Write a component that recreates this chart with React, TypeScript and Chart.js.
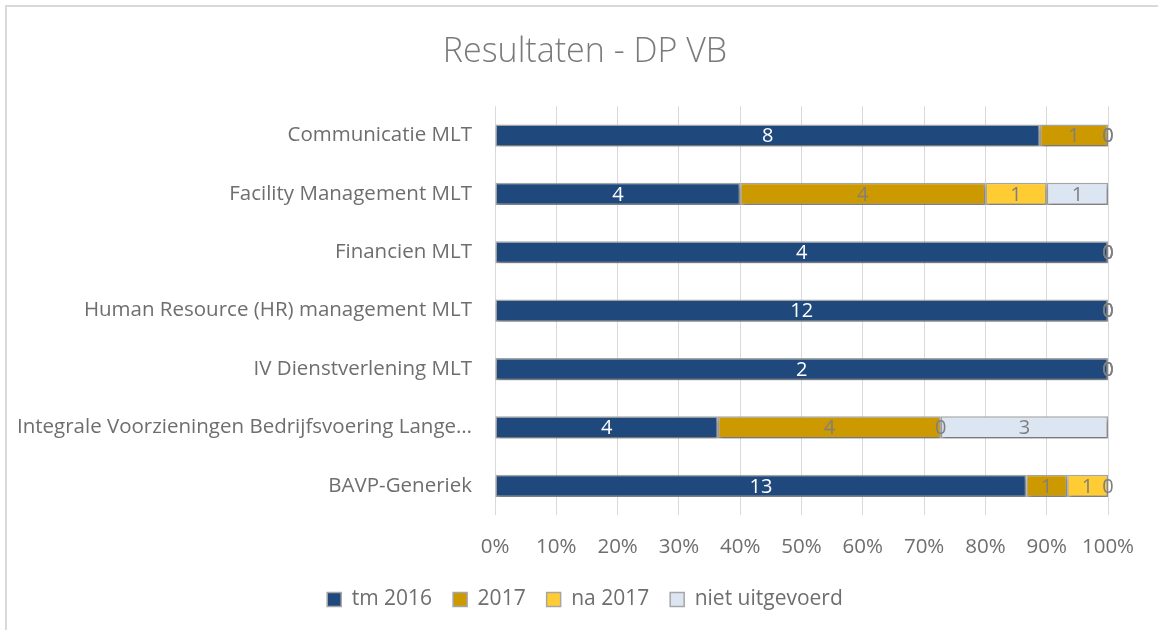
import React, { useEffect, useRef } from "react";
import { Chart, registerables } from "chart.js";

Chart.register(...registerables);

const categories = [
  "Communicatie MLT",
  "Facility Management MLT",
  "Financien MLT",
  "Human Resource (HR) management MLT",
  "IV Dienstverlening MLT",
  "Integrale Voorzieningen Bedrijfsvoering Lange…",
  "BAVP-Generiek",
];
const tm2016 = [8, 4, 4, 12, 2, 4, 13];
const y2017 = [1, 4, 0, 0, 0, 4, 1];
const na2017 = [0, 1, 0, 0, 0, 0, 1];
const nietUitgevoerd = [0, 1, 0, 0, 0, 3, 0];
const xTicks = ["0%", "10%", "20%", "30%", "40%", "50%", "60%", "70%", "80%", "90%", "100%"];

const FONT = "'Open Sans', 'DejaVu Sans', sans-serif";
const TEXT = "#6e6e6e";

const rowTotals = categories.map((_, i) => tm2016[i] + y2017[i] + na2017[i] + nietUitgevoerd[i]);
const pct = (arr: number[]) => arr.map((v, i) => (v / rowTotals[i]) * 100);

const shadowPlugin = {
  id: "barShadow",
  beforeDatasetsDraw(chart: any) {
    const ctx = chart.ctx;
    ctx.save();
    ctx.shadowColor = "rgba(0,0,0,0.3)";
    ctx.shadowBlur = 4;
    ctx.shadowOffsetX = 1;
    ctx.shadowOffsetY = 3;
  },
  afterDatasetsDraw(chart: any) {
    chart.ctx.restore();
  },
};

const labelsPlugin = {
  id: "segLabels",
  afterDatasetsDraw(chart: any) {
    const ctx = chart.ctx;
    ctx.save();
    ctx.font = `20px ${FONT}`;
    ctx.textAlign = "center";
    ctx.textBaseline = "middle";
    chart.data.datasets.forEach((ds: any, di: number) => {
      const meta = chart.getDatasetMeta(di);
      meta.data.forEach((el: any, i: number) => {
        const p = el.getProps(["x", "y", "base"], true);
        const cx = (p.x + p.base) / 2;
        ctx.fillStyle = di === 0 ? "#ffffff" : "#7f7f7f";
        ctx.fillText(String(ds.raw[i]), cx, p.y + 1);
      });
    });
    ctx.restore();
  },
};

export default function App() {
  const ref = useRef<HTMLCanvasElement | null>(null);
  useEffect(() => {
    if (!ref.current) return;
    const mk = (label: string, raw: number[], color: string) => ({
      label,
      raw,
      data: pct(raw),
      backgroundColor: color,
      borderColor: "#a6a6a6",
      borderWidth: 1.5,
      borderSkipped: false,
      categoryPercentage: 1,
      barPercentage: 0.38,
    });
    const chart = new Chart(ref.current, {
      type: "bar",
      data: {
        labels: categories,
        datasets: [
          mk("tm 2016", tm2016, "#1f497d"),
          mk("2017", y2017, "#cc9900"),
          mk("na 2017", na2017, "#ffcc33"),
          mk("niet uitgevoerd", nietUitgevoerd, "#dce6f2"),
        ] as any,
      },
      options: {
        indexAxis: "y",
        animation: false,
        responsive: true,
        maintainAspectRatio: false,
        layout: { padding: { top: 6, left: 12, right: 0, bottom: 10 } },
        scales: {
          x: {
            stacked: true,
            min: 0,
            max: 100,
            ticks: {
              stepSize: 10,
              padding: 20,
              color: TEXT,
              font: { size: 20.5, family: FONT },
              callback: (_v: any, idx: number) => xTicks[idx],
            },
            grid: { color: "#d9d9d9", lineWidth: 1, drawTicks: false },
            border: { display: false },
            afterFit: (s: any) => {
              s.height = 53;
            },
          },
          y: {
            stacked: true,
            ticks: {
              padding: 15,
              color: TEXT,
              font: { size: 20.5, family: FONT },
            },
            grid: { display: false },
            border: { display: false },
            afterFit: (s: any) => {
              s.width = 483;
            },
          },
          spacer: {
            type: "linear",
            position: "right",
            display: true,
            ticks: { display: false },
            grid: { display: false, drawTicks: false },
            border: { display: false },
            afterFit: (s: any) => {
              s.width = 50;
            },
          },
        },
        plugins: {
          title: {
            display: true,
            text: "Resultaten - DP VB",
            color: "#7a7a7a",
            font: { size: 34, family: FONT, weight: 300 },
            padding: { top: 26, bottom: 33.5 },
          },
          legend: {
            position: "bottom",
            labels: {
              boxWidth: 14,
              boxHeight: 14,
              padding: 21,
              color: TEXT,
              font: { size: 21, family: FONT },
            },
          },
          tooltip: { enabled: false },
        },
      },
      plugins: [shadowPlugin, labelsPlugin],
    } as any);
    return () => chart.destroy();
  }, []);
  return (
    <div style={{ position: "absolute", left: 0, top: 0, width: 1158, height: 630, overflow: "hidden", background: "#fff" }}>
      <div
        style={{
          position: "absolute",
          left: 5,
          top: 5,
          width: 1200,
          height: 700,
          border: "2px solid #d9d9d9",
          boxSizing: "border-box",
        }}
      />
      <canvas ref={ref} style={{ position: "absolute", left: 0, top: 0, width: 1158, height: 630 }} />
    </div>
  );
}
